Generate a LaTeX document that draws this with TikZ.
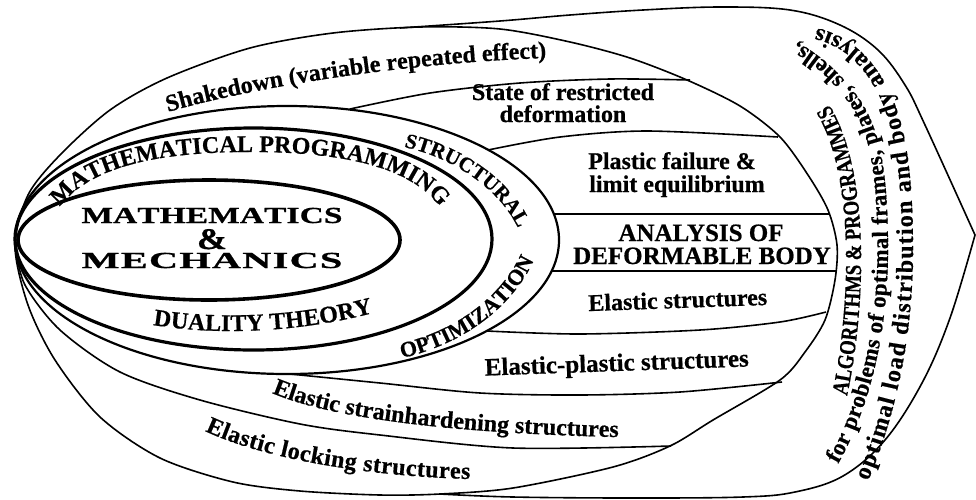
\documentclass[tikz,border=0pt]{standalone}
\usepackage{fontspec}
\setmainfont{Liberation Serif}[BoldFeatures={FakeBold=0.6}]
\newfontfamily\condfont{Liberation Serif}[FakeStretch=0.82, BoldFeatures={FakeBold=0.6}]
\usetikzlibrary{decorations.text}
\newcommand\fs[1]{\fontsize{#1}{#1}\selectfont\bfseries}
\begin{document}
\begin{tikzpicture}[x=1pt,y=-1pt,
  bandline/.style={line width=1.6pt, line join=round},
  ringC/.style={line width=2.2pt},
  ringB/.style={line width=3.2pt},
  ringA/.style={line width=3.6pt},
  lbl/.style={font=\fs{#1}, inner sep=0pt, anchor=base},
  lbl/.default=24,
  curvtext/.style={decorate, decoration={text along path, text align={fit to path}, text={#1}}}]
\useasboundingbox (0,0) rectangle (976,499);
\fill[white] (0,0) rectangle (976,499);

% outer arrow shape (right part, merging with ellipse D on the left)
\draw[bandline, line join=miter]
  plot[smooth, tension=0.6] coordinates {(400,28) (500,21) (570,15) (643,10) (720,7) (790,10) (840,25) (878,50) (905,85) (925,125) (975,235)}
  -- plot[smooth, tension=0.6] coordinates {(975,235) (950,318) (922,383) (885,440) (843,476) (795,492) (743,497) (633,498) (513,497) (440,494)};

% ellipse D (deformable body)
\draw[bandline] plot[smooth cycle] coordinates {(15,246) (28,195) (60,155) (110,110) (167,78) (250,48) (333,33) (420,27) (500,29) (570,42) (630,58) (687,80) (740,106) (780,137) (808,175) (828,210) (837,245) (835,280) (825,320) (805,352) (780,380) (713,420) (670,446) (613,467) (513,488) (440,494) (380,495) (300,491) (233,482) (160,458) (100,417) (55,360) (28,305)};

% band boundaries
\draw[bandline] plot[smooth] coordinates {(350,109) (430,93) (520,83) (610,79) (690,80)};
\draw[bandline] plot[smooth] coordinates {(488,150) (560,137) (647,131) (778,137)};
\draw[bandline] (554,214) -- (830,214);
\draw[bandline] (552,271) -- (836,271);
\draw[bandline] plot[smooth] coordinates {(487,331) (580,334) (700,330) (780,322) (826,312)};
\draw[bandline] plot[smooth] coordinates {(290,374) (380,383) (480,393) (580,395) (680,392) (782,382)};
\draw[bandline] plot[smooth] coordinates {(15,246) (25,285) (60,330) (120,372) (200,400) (300,424) (380,435) (513,448) (671,446)};

% rings
\draw[ringC] (287,240) ellipse [x radius=272, y radius=134];
\draw[ringB] (253.5,239) ellipse [x radius=238.5, y radius=111];
\draw[ringA] (209,240) ellipse [x radius=191, y radius=60];

% centre
\node[lbl=23, xscale=1.45] (mm1) at (212,223) {\makebox[180pt]{M\hfill A\hfill T\hfill H\hfill E\hfill M\hfill A\hfill T\hfill I\hfill C\hfill S}};
\node[lbl=30, xscale=1.2] (mm2) at (212,249) {\&};
\node[lbl=23, xscale=1.75] (mm3) at (212,268) {\makebox[149pt]{M\hfill E\hfill C\hfill H\hfill A\hfill N\hfill I\hfill C\hfill S}};

% straight labels
\node[lbl=24] (st1) at (563,100) {State of restricted};
\node[lbl=24] (st2) at (563,122) {deformation};
\node[lbl=24] (pf1) at (672,169) {Plastic failure \&};
\node[lbl=24] (pf2) at (677,192) {limit equilibrium};
\node[lbl=25] (ad1) at (701,241) {ANALYSIS OF};
\node[lbl=25] (ad2) at (702,264) {DEFORMABLE BODY};
\node[lbl=24, rotate=2] (es) at (678,308) {Elastic structures};
\node[lbl=25, rotate=2] (ep) at (617,371) {Elastic-plastic structures};

% curved labels
\path[curvtext={|\fs{24}|Shakedown (variable repeated effect)}] (168,112) .. controls (250,88) and (400,63) .. (546,58);
\path[curvtext={|\fs{24}|MATHEMATICAL PROGRAMMING}] (60,207) .. controls (92,163) and (170,152) .. (250,152) .. controls (330,152) and (408,163) .. (440,207);
\path[curvtext={|\fs{21}|STRUCTURAL}] (404,147) .. controls (450,157) and (495,185) .. (516,224);
\path[curvtext={|\fs{22}|OPTIMIZATION}] (402,358) .. controls (460,345) and (510,310) .. (533,262);
\path[curvtext={|\fs{24}|DUALITY THEORY}] (153,325) .. controls (220,336) and (300,332) .. (373,313);
\path[curvtext={|\fs{24}|Elastic strainhardening structures}] (272,393) .. controls (330,418) and (450,433) .. (615,437);
\path[curvtext={|\fs{24}|Elastic locking structures}] (205,431) .. controls (260,457) and (360,476) .. (470,479);
\path[curvtext={|\condfont\fs{23}|ALGORITHMS {\&} PROGRAMMES}] (847,396) .. controls (856,355) and (862,300) .. (861,250) .. controls (860,190) and (850,140) .. (830,106);
\path[curvtext={|\fs{23}|for problems of optimal frames, plates, shells,}] (838,464) .. controls (874,400) and (889,320) .. (888,240) .. controls (887,170) and (880,130) .. (860,100) .. controls (840,72) and (820,55) .. (797,42);
\path[curvtext={|\fs{24}|optimal load distribution and body analysis}] (868,481) .. controls (898,410) and (913,330) .. (913,250) .. controls (913,170) and (905,120) .. (886,85) .. controls (868,52) and (845,35) .. (817,28);
\end{tikzpicture}
\end{document}
